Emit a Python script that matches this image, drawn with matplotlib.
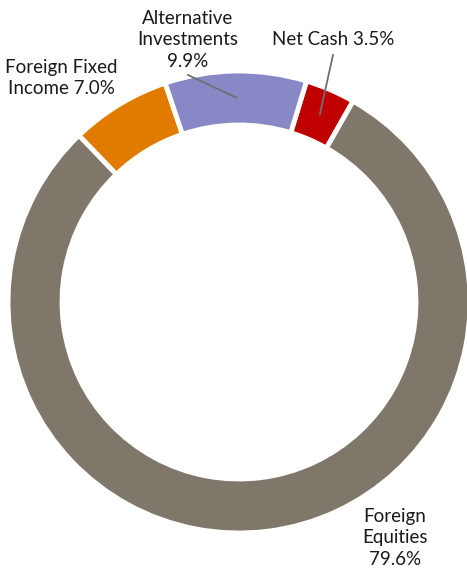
import matplotlib
matplotlib.use("Agg")
import matplotlib.pyplot as plt
import numpy as np

# данные (по часовой стрелке, начиная с Net Cash)
categories = ["Net Cash", "Foreign Equities", "Foreign Fixed Income", "Alternative Investments"]
shares = [3.5, 79.6, 7.0, 9.9]
colors = ["#C00000", "#7F7769", "#E17B00", "#8888C6"]
label_texts = ["Net Cash 3.5%", "Foreign\nEquities\n79.6%", "Foreign Fixed\nIncome 7.0%",
               "Alternative\nInvestments\n9.9%"]

W, H = 467, 570
CX, CY, R = 239, 302, 231  # центр и радиус кольца в пикселях


def px(x, y):
    """пиксели картинки -> координаты данных"""
    return (x - CX) / R, (CY - y) / R


plt.rcParams["font.family"] = ["Lato", "DejaVu Sans"]

fig = plt.figure(figsize=(W / 100, H / 100), dpi=100)
ax = fig.add_axes([0, 0, 1, 1])

wedges, _ = ax.pie(shares, colors=colors, startangle=73, counterclock=False,
                   radius=1.0, wedgeprops=dict(width=54 / R, edgecolor="white", linewidth=3.5))

ax.set_aspect("auto")
ax.set_xlim(-CX / R, (W - CX) / R)
ax.set_ylim(-(H - CY) / R, CY / R)
ax.axis("off")

# подписи: положение текста и есть ли выноска
label_pos = [(333, 40), (395, 538), (61, 78), (188, 40)]
has_leader = [True, False, False, True]
leader_start = [(333, 55), None, None, (188, 75)]

for w, txt, pos, lead, ls in zip(wedges, label_texts, label_pos, has_leader, leader_start):
    tx, ty = px(*pos)
    ax.text(tx, ty, txt, ha="center", va="center", fontsize=13.5,
            color="#1a1a1a", linespacing=1.32)
    if lead:
        mid = np.deg2rad((w.theta1 + w.theta2) / 2)
        ex, ey = 0.885 * np.cos(mid), 0.885 * np.sin(mid)
        sx, sy = px(*ls)
        ax.plot([sx, ex], [sy, ey], color="#6f6f6f", lw=1.3)

fig.savefig("out.png", dpi=100)
